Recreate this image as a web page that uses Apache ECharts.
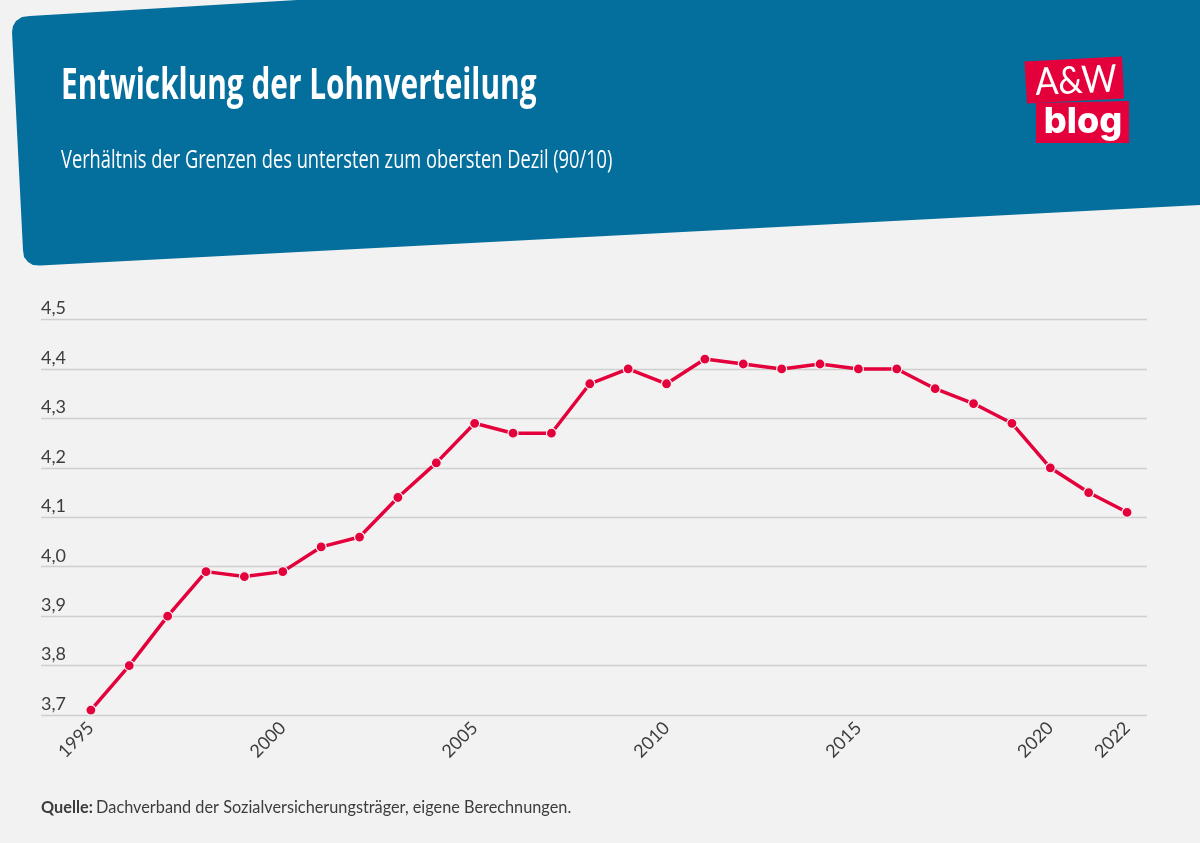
<!DOCTYPE html>
<html><head><meta charset="utf-8">
<style>html,body{margin:0;padding:0;background:#f2f2f2}#c{width:1200px;height:843px}</style>
<script src="https://cdn.jsdelivr.net/npm/echarts@6/dist/echarts.min.js"></script></head>
<body><div id="c"></div>
<script>
const years = [1995,1996,1997,1998,1999,2000,2001,2002,2003,2004,2005,2006,2007,2008,2009,2010,2011,2012,2013,2014,2015,2016,2017,2018,2019,2020,2021,2022];
const ratio = [3.71,3.80,3.90,3.99,3.98,3.99,4.04,4.06,4.14,4.21,4.29,4.27,4.27,4.37,4.40,4.37,4.42,4.41,4.40,4.41,4.40,4.40,4.36,4.33,4.29,4.20,4.15,4.11];
const yearLabels = [1995,2000,2005,2010,2015,2020,2022];
const titleText = 'Entwicklung der Lohnverteilung';
const subtitleText = 'Verhältnis der Grenzen des untersten zum obersten Dezil (90/10)';
const sourceLabel = 'Quelle:';
const sourceText = 'Dachverband der Sozialversicherungsträger, eigene Berechnungen.';

const BLUE='#046e9c', RED='#e4003a', BG='#f2f2f2', NARROW='"Open Sans",sans-serif', BODY='Lato,"Open Sans",sans-serif';
const headerShape=[[30,16],[297,0],[1200,0],[1200,205],[40,265.5],[33,265],[28,262],[24,257],[23,250],[12,32],[13,26],[16,21],[22,17]];
const chart = echarts.init(document.getElementById('c'), null, {renderer:'canvas'});
chart.setOption({
  backgroundColor: BG,
  animation:false,
  grid:{left:41,right:53,top:319.5,height:395.5},
  xAxis:{type:'value',min:1993.7,max:2022.52,
    axisLine:{show:false},axisTick:{show:false},splitLine:{show:false},
    axisLabel:{customValues:yearLabels,rotate:45,margin:10,lineHeight:28,fontSize:18,color:'#3c3c3c',fontFamily:BODY,formatter:v=>String(v)}},
  yAxis:{type:'value',min:3.7,max:4.5,interval:0.1,
    axisLine:{show:false},axisTick:{show:false},
    splitLine:{show:true,lineStyle:{color:'#cfcfcf',width:1.3}},
    axisLabel:{inside:true,margin:0,fontSize:18,color:'#3c3c3c',fontFamily:BODY,verticalAlign:'bottom',padding:[0,0,2,0],
      formatter:v=>v.toFixed(1).replace('.',',')}},
  series:[{type:'line',data:years.map((y,i)=>[y,ratio[i]]),
    lineStyle:{color:RED,width:3.5},symbol:'circle',symbolSize:10,showSymbol:true,
    itemStyle:{color:RED,borderColor:BG,borderWidth:1.2},clip:false}],
  graphic:[
    {type:'polygon',z:1,shape:{points:headerShape},style:{fill:BLUE}},
    {type:'text',z:5,x:61,y:87,scaleX:0.693,style:{text:titleText,fill:'#fff',font:'bold 43px '+NARROW,verticalAlign:'middle'}},
    {type:'text',z:5,x:61,y:160.5,scaleX:0.73,style:{text:subtitleText,fill:'#fff',font:'25px '+NARROW,verticalAlign:'middle'}},
    {type:'polygon',z:3,shape:{points:[[1024.5,61.5],[1122,56.5],[1124,98.5],[1027,103.5]]},style:{fill:RED}},
    {type:'polygon',z:3,shape:{points:[[1036,103],[1129,101],[1129,143],[1036,143]]},style:{fill:RED}},
    {type:'text',z:5,x:1076,y:81,rotation:0.045,scaleX:0.9,style:{text:'A&W',fill:'#fff',font:'400 38px Lato,sans-serif',align:'center',verticalAlign:'middle'}},
    {type:'text',z:5,x:1083,y:122,style:{text:'blog',fill:'#fff',font:'800 36px Inter,sans-serif',align:'center',verticalAlign:'middle'}},
    {type:'text',z:5,x:41,y:808,scaleX:0.958,style:{verticalAlign:'middle',rich:{b:{fontWeight:'bold',fontSize:17,fontFamily:BODY,fill:'#3c3c3c'},r:{fontSize:17,fontFamily:BODY,fill:'#3c3c3c'}},text:'{b|'+sourceLabel+'} {r|'+sourceText+'}'}}
  ]
});
</script></body></html>
